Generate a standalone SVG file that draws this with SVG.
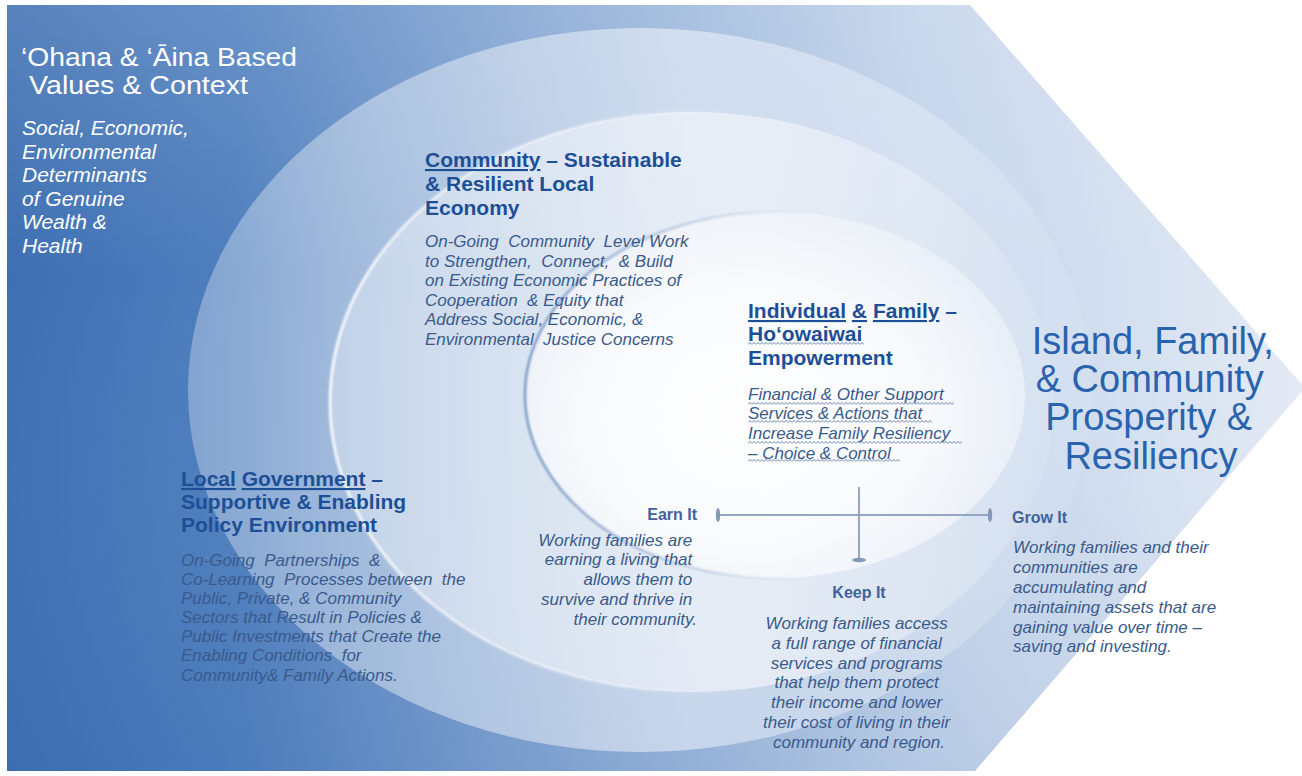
<svg xmlns="http://www.w3.org/2000/svg" width="1302" height="776" viewBox="0 0 1302 776">
<defs>
<linearGradient id="bg" x1="7" y1="0" x2="1305" y2="0" gradientUnits="userSpaceOnUse">
<stop offset="0" stop-color="#3d6fb2"/>
<stop offset="0.18" stop-color="#4f7fbe"/>
<stop offset="0.38" stop-color="#7ea1d0"/>
<stop offset="0.7" stop-color="#c2d3ea"/>
<stop offset="1" stop-color="#e4ebf5"/>
</linearGradient>
<linearGradient id="bgv" x1="0" y1="0" x2="0" y2="1">
<stop offset="0" stop-color="#ffffff" stop-opacity="0.14"/>
<stop offset="0.35" stop-color="#ffffff" stop-opacity="0"/>
<stop offset="1" stop-color="#1e4f95" stop-opacity="0.08"/>
</linearGradient>
<linearGradient id="g1" x1="188" y1="0" x2="1092" y2="0" gradientUnits="userSpaceOnUse">
<stop offset="0" stop-color="#ffffff" stop-opacity="0.3"/>
<stop offset="0.18" stop-color="#ffffff" stop-opacity="0.4"/>
<stop offset="0.55" stop-color="#ffffff" stop-opacity="0.48"/>
<stop offset="0.8" stop-color="#ffffff" stop-opacity="0.28"/>
<stop offset="1" stop-color="#ffffff" stop-opacity="0.06"/>
</linearGradient>
<linearGradient id="g2" x1="320" y1="0" x2="1060" y2="0" gradientUnits="userSpaceOnUse">
<stop offset="0" stop-color="#ffffff" stop-opacity="0.34"/>
<stop offset="0.3" stop-color="#ffffff" stop-opacity="0.46"/>
<stop offset="0.6" stop-color="#ffffff" stop-opacity="0.5"/>
<stop offset="1" stop-color="#ffffff" stop-opacity="0.08"/>
</linearGradient>
<radialGradient id="g3" cx="0.45" cy="0.56" r="0.62">
<stop offset="0" stop-color="#ffffff" stop-opacity="0.98"/>
<stop offset="0.55" stop-color="#ffffff" stop-opacity="0.78"/>
<stop offset="1" stop-color="#ffffff" stop-opacity="0.3"/>
</radialGradient>
<linearGradient id="rim2" x1="320" y1="0" x2="760" y2="0" gradientUnits="userSpaceOnUse">
<stop offset="0" stop-color="#ffffff" stop-opacity="0.9"/>
<stop offset="1" stop-color="#ffffff" stop-opacity="0"/>
</linearGradient>
<linearGradient id="rim3" x1="525" y1="0" x2="800" y2="0" gradientUnits="userSpaceOnUse">
<stop offset="0" stop-color="#6f8fc0" stop-opacity="0.9"/>
<stop offset="1" stop-color="#6f8fc0" stop-opacity="0"/>
</linearGradient>
<filter id="soft" x="-5%" y="-5%" width="110%" height="110%"><feGaussianBlur stdDeviation="1.2"/></filter>
<pattern id="wavy" width="4" height="3" patternUnits="userSpaceOnUse">
<path d="M0,2.6 L2,0.4 L4,2.6" fill="none" stroke="#5f7aa8" stroke-width="0.9"/>
</pattern>
<marker id="oval" viewBox="-3 -8 6 16" markerWidth="6" markerHeight="16" refX="0" refY="0" orient="auto" markerUnits="userSpaceOnUse">
<ellipse cx="0" cy="0" rx="2.2" ry="7" fill="#8498b8"/>
</marker>
<style>
.t{font-family:"Liberation Sans",Arial,sans-serif}
.w{fill:#ffffff}
.hd{font-family:"Liberation Sans",Arial,sans-serif;font-weight:bold;font-size:21px;fill:#1d4f96}
.it{font-family:"Liberation Sans",Arial,sans-serif;font-style:italic;font-size:17px;fill:#3a5a8c}
.sub{font-family:"Liberation Sans",Arial,sans-serif;font-weight:bold;font-size:16px;fill:#40639a}
.u{text-decoration:underline}
.big{font-family:"Liberation Sans",Arial,sans-serif;font-size:38px;fill:#2a63ad}
.cn{fill:none;stroke:#93a7c4;stroke-width:2}
</style>
</defs>

<g id="background">
<rect x="0" y="0" width="1302" height="776" fill="#ffffff"/>
<polygon points="7,5 970,5 1305,388 975,771 7,771" fill="url(#bg)"/>
<polygon points="7,5 970,5 1305,388 975,771 7,771" fill="url(#bgv)"/>
</g>

<g id="ring-outer">
<ellipse cx="640" cy="390" rx="452" ry="362" fill="url(#g1)"/>
</g>
<g id="ring-middle">
<ellipse cx="692" cy="402" rx="362" ry="290" fill="url(#g2)"/>
<ellipse cx="692" cy="402" rx="362" ry="290" fill="none" stroke="url(#rim2)" stroke-width="3" filter="url(#soft)"/>
</g>
<g id="ring-inner">
<ellipse cx="775" cy="395" rx="250" ry="183" fill="url(#g3)"/>
<ellipse cx="775" cy="395" rx="250" ry="183" fill="none" stroke="url(#rim3)" stroke-width="2.5" filter="url(#soft)"/>
</g>

<g id="context">
<text class="t w" font-size="26" x="21" y="66" textLength="276" lengthAdjust="spacingAndGlyphs">‘Ohana &amp; ‘Āina Based</text>
<text class="t w" font-size="26" x="29" y="94" textLength="219" lengthAdjust="spacingAndGlyphs">Values &amp; Context</text>
<text class="t w" font-size="21" font-style="italic">
<tspan x="22" y="135">Social, Economic,</tspan>
<tspan x="22" y="158.5">Environmental</tspan>
<tspan x="22" y="182">Determinants</tspan>
<tspan x="22" y="205.5">of Genuine</tspan>
<tspan x="22" y="229">Wealth &amp;</tspan>
<tspan x="22" y="252.5">Health</tspan>
</text>
</g>

<g id="community">
<text class="hd" x="425" y="167"><tspan class="u">Community</tspan> – Sustainable</text>
<text class="hd" x="425" y="191">&amp; Resilient Local</text>
<text class="hd" x="425" y="215">Economy</text>
<text class="it">
<tspan x="425" y="247">On-Going&#160; Community&#160; Level Work</tspan>
<tspan x="425" y="266.5">to Strengthen,&#160; Connect,&#160; &amp; Build</tspan>
<tspan x="425" y="286">on Existing Economic Practices of</tspan>
<tspan x="425" y="305.5">Cooperation&#160; &amp; Equity that</tspan>
<tspan x="425" y="325">Address Social, Economic, &amp;</tspan>
<tspan x="425" y="344.5">Environmental&#160; Justice Concerns</tspan>
</text>
</g>

<g id="individual">
<text class="hd" x="748" y="318"><tspan class="u">Individual</tspan> <tspan class="u">&amp;</tspan> <tspan class="u">Family</tspan> –</text>
<text class="hd" x="748" y="341">Ho‘owaiwai</text>
<rect x="748" y="342" width="116" height="3" fill="url(#wavy)"/>
<text class="hd" x="748" y="365">Empowerment</text>
<text class="it" font-size="17.6">
<tspan x="748" y="400">Financial &amp; Other Support</tspan>
<tspan x="748" y="419">Services &amp; Actions that</tspan>
<tspan x="748" y="439">Increase Family Resiliency</tspan>
<tspan x="748" y="459">– Choice &amp; Control</tspan>
</text>
<rect x="748" y="402" width="206" height="3" fill="url(#wavy)"/>
<rect x="748" y="420" width="184" height="3" fill="url(#wavy)"/>
<rect x="748" y="441" width="214" height="3" fill="url(#wavy)"/>
<rect x="748" y="459" width="152" height="3" fill="url(#wavy)"/>
</g>

<g id="government">
<text class="hd" x="181" y="486" font-size="21.5"><tspan class="u">Local</tspan> <tspan class="u">Government</tspan> –</text>
<text class="hd" x="181" y="509">Supportive &amp; Enabling</text>
<text class="hd" x="181" y="532">Policy Environment</text>
<text class="it">
<tspan x="181" y="566">On-Going&#160; Partnerships&#160; &amp;</tspan>
<tspan x="181" y="585">Co-Learning&#160; Processes between&#160; the</tspan>
<tspan x="181" y="604">Public, Private, &amp; Community</tspan>
<tspan x="181" y="623">Sectors that Result in Policies &amp;</tspan>
<tspan x="181" y="642">Public Investments that Create the</tspan>
<tspan x="181" y="661">Enabling Conditions&#160; for</tspan>
<tspan x="181" y="681">Community&amp; Family Actions.</tspan>
</text>
</g>

<g id="earn">
<text class="sub" x="697" y="520" text-anchor="end">Earn It</text>
<text class="it" text-anchor="end">
<tspan x="697" y="546">Working families are</tspan>
<tspan x="697" y="565">earning a living that</tspan>
<tspan x="697" y="585">allows them to</tspan>
<tspan x="697" y="605">survive and thrive in</tspan>
<tspan x="697" y="625">their community.</tspan>
</text>
</g>

<g id="keep">
<text class="sub" x="859" y="598" text-anchor="middle">Keep It</text>
<text class="it" text-anchor="middle" font-size="18">
<tspan x="859" y="629">Working families access</tspan>
<tspan x="859" y="649">a full range of financial</tspan>
<tspan x="859" y="669">services and programs</tspan>
<tspan x="859" y="688">that help them protect</tspan>
<tspan x="859" y="708">their income and lower</tspan>
<tspan x="859" y="728">their cost of living in their</tspan>
<tspan x="859" y="748">community and region.</tspan>
</text>
</g>

<g id="grow">
<text class="sub" x="1012" y="523">Grow It</text>
<text class="it" font-size="17.5">
<tspan x="1013" y="553">Working families and their</tspan>
<tspan x="1013" y="573">communities are</tspan>
<tspan x="1013" y="593">accumulating and</tspan>
<tspan x="1013" y="613">maintaining assets that are</tspan>
<tspan x="1013" y="633">gaining value over time –</tspan>
<tspan x="1013" y="652">saving and investing.</tspan>
</text>
</g>

<g id="prosperity">
<text class="big" text-anchor="middle">
<tspan x="1158" y="354">Island, Family,</tspan>
<tspan x="1155" y="392">&amp; Community</tspan>
<tspan x="1154" y="430">Prosperity &amp;</tspan>
<tspan x="1151" y="469">Resiliency</tspan>
</text>
</g>

<g id="connectors">
<line class="cn" x1="718" y1="515" x2="990" y2="515" marker-start="url(#oval)" marker-end="url(#oval)"/>
<line class="cn" x1="859" y1="487" x2="859" y2="560" marker-end="url(#oval)"/>
</g>
</svg>
